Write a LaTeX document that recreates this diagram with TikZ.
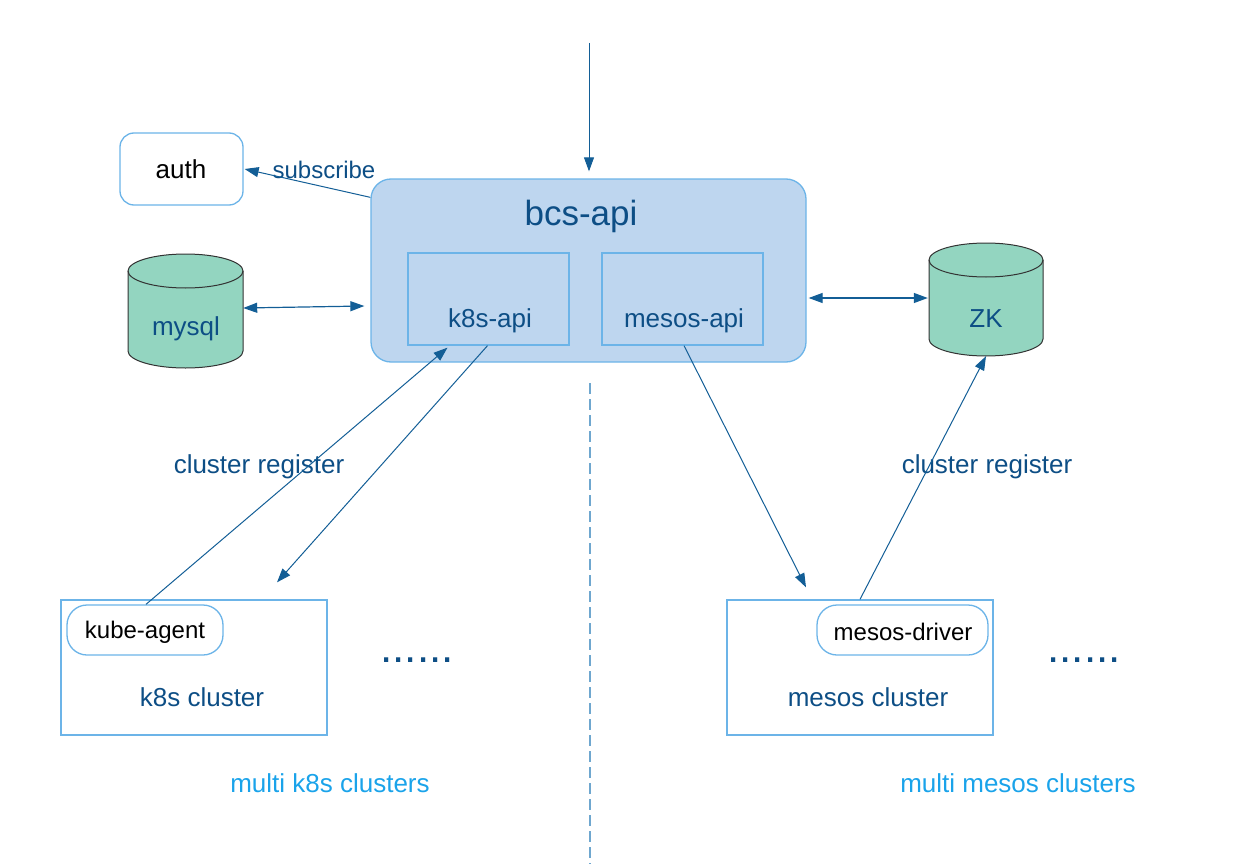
\documentclass[tikz,border=0pt]{standalone}
\usepackage{fontspec}
\setmainfont{Liberation Sans}
\usetikzlibrary{arrows.meta}
\definecolor{dkblue}{HTML}{0D4E85}
\definecolor{lnblue}{HTML}{135E96}
\definecolor{bdblue}{HTML}{6CB4E8}
\definecolor{bcsfill}{HTML}{BED6EF}
\definecolor{cylfill}{HTML}{93D5C0}
\definecolor{cylline}{HTML}{333333}
\definecolor{ltblue}{HTML}{1AA3EA}
\definecolor{dashblue}{HTML}{6FA7CF}
\begin{document}
\begin{tikzpicture}[x=1pt,y=-1pt,
  txt/.style={font=\fontsize{26}{30}\selectfont, text=dkblue, inner sep=0pt},
  blk/.style={font=\fontsize{26}{30}\selectfont, text=black, inner sep=0pt},
  lbl/.style={font=\fontsize{26}{30}\selectfont, text=ltblue, inner sep=0pt},
  rbox/.style={draw=bdblue, line width=1.3pt, fill=white, rounded corners=14pt, inner sep=0pt},
  sbox/.style={draw=bdblue, line width=1.3pt, inner sep=0pt},
  ghost/.style={inner sep=0pt},
  tip/.style={-{Triangle[length=14pt,width=10pt]}},
  conn/.style={draw=lnblue, line width=1pt, tip},
  biconn/.style={draw=lnblue, line width=1.2pt, {Triangle[length=14pt,width=10pt]}-{Triangle[length=14pt,width=10pt]}},
  cyl/.style={fill=cylfill, draw=cylline, line width=1pt}
]
\useasboundingbox (0,0) rectangle (1250,864);

% dashed divider
\coordinate (dtop) at (590,383);
\coordinate (dbot) at (590,864);
\draw[dashblue, line width=2pt, dash pattern=on 11pt off 5pt] (dtop) -- (dbot);

% bcs-api
\node[rbox, fill=bcsfill, draw=bdblue, rounded corners=20pt, minimum width=435, minimum height=183] (bcs) at (588.5,270.5) {};
\node[txt, font=\fontsize{35}{40}\selectfont] (bcstitle) at (581,216) {bcs-api};
\node[sbox, minimum width=161, minimum height=92] (k8sapi) at (488.5,299) {};
\node[txt] (k8sapitxt) at (490,321) {k8s-api};
\node[sbox, minimum width=161, minimum height=92] (mesosapi) at (682.5,299) {};
\node[txt] (mesosapitxt) at (684,321) {mesos-api};

% auth
\node[rbox, minimum width=123, minimum height=72] (auth) at (181.5,169) {};
\node[blk] (authtxt) at (181,169) {auth};

% mysql cylinder
\filldraw[cyl] (128,271) -- (128,351) arc[start angle=180,end angle=360,x radius=57.5pt,y radius=17pt] -- (243,271) arc[start angle=0,end angle=180,x radius=57.5pt,y radius=17pt] -- cycle;
\draw[cylline, line width=1pt] (128,271) arc[start angle=180,end angle=360,x radius=57.5pt,y radius=17pt];
\node[ghost, minimum width=115, minimum height=114] (mysql) at (185.5,311) {};
\node[txt] (mysqltxt) at (186,329) {mysql};

% ZK cylinder
\filldraw[cyl] (929,260) -- (929,339) arc[start angle=180,end angle=360,x radius=57pt,y radius=17pt] -- (1043,260) arc[start angle=0,end angle=180,x radius=57pt,y radius=17pt] -- cycle;
\draw[cylline, line width=1pt] (929,260) arc[start angle=180,end angle=360,x radius=57pt,y radius=17pt];
\node[ghost, minimum width=114, minimum height=113] (zk) at (986,299.5) {};
\node[txt] (zktxt) at (986,319) {ZK};

% clusters
\node[sbox, minimum width=266, minimum height=135] (k8scl) at (194,667.5) {};
\node[rbox, rounded corners=20pt, minimum width=156, minimum height=50] (kubeagent) at (145,630) {};
\node[blk, font=\fontsize{24}{28}\selectfont] (kubeagenttxt) at (145,632) {kube-agent};
\node[txt] (k8scltxt) at (202,697) {k8s cluster};
\node[txt, font=\fontsize{44}{50}\selectfont] (dotsl) at (417,660) {......};
\node[lbl] (multik8s) at (330,783) {multi k8s clusters};

\node[sbox, minimum width=266, minimum height=135] (mesoscl) at (860,667.5) {};
\node[rbox, rounded corners=20pt, minimum width=171, minimum height=50] (mesosdriver) at (902.5,630) {};
\node[blk, font=\fontsize{24}{28}\selectfont] (mesosdrivertxt) at (903,632) {mesos-driver};
\node[txt] (mesoscltxt) at (868,697) {mesos cluster};
\node[txt, font=\fontsize{44}{50}\selectfont] (dotsr) at (1084,660) {......};
\node[lbl] (multimesos) at (1018,783) {multi mesos clusters};

% labels
\node[txt, font=\fontsize{24}{28}\selectfont] (subscribe) at (324,170) {subscribe};
\node[txt] (regl) at (259,467) {cluster register};
\node[txt] (regr) at (987,467) {cluster register};

% connectors
\coordinate (topin) at (589,43);
\draw[conn] (topin) -- ([yshift=7pt]bcs.north -| topin);
\draw[conn] ([yshift=-19pt]bcs.north west) -- ([xshift=1pt]auth.east);
\draw[biconn] (mysql.east |- 0,308) -- ([xshift=-6pt]bcs.west |- 0,306);
\draw[biconn] ([xshift=2pt]bcs.east |- 0,298) -- ([xshift=-1pt]zk.west |- 0,298);
\draw[conn] ([xshift=1pt]kubeagent.north) -- ([shift={(-41pt,-2pt)}]k8sapi.south);
\draw[conn] ([xshift=-1pt]k8sapi.south) -- ([shift={(83pt,17pt)}]k8scl.north);
\draw[conn] ([xshift=1.5pt]mesosapi.south) -- ([shift={(-54pt,12pt)}]mesoscl.north);
\draw[conn] (mesoscl.north) -- (zk.south);
\end{tikzpicture}
\end{document}
